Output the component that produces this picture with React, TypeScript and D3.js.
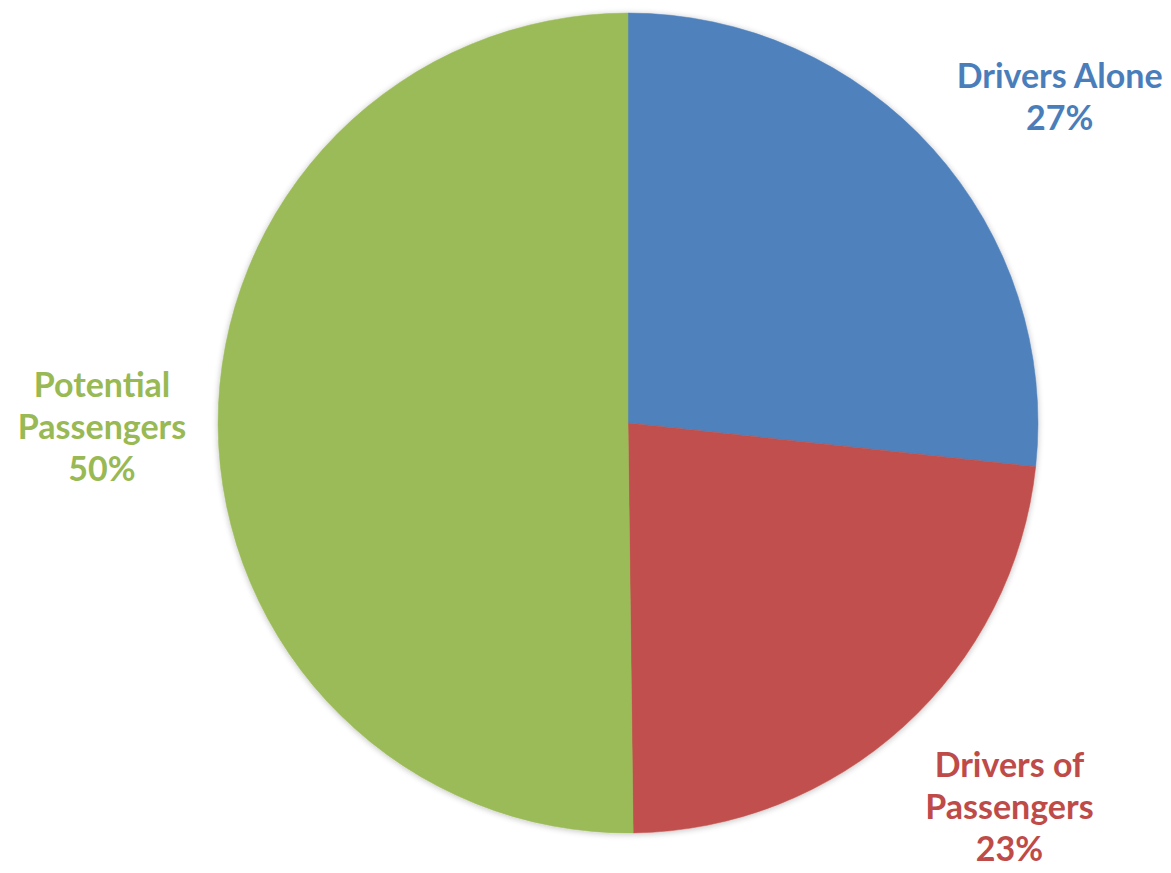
import React from "react";
import * as d3 from "d3";

const categories = ["Drivers Alone", "Drivers of Passengers", "Potential Passengers"];
const values = [26.7, 23.1, 50.2];
const percentLabels = ["27%", "23%", "50%"];
const labelLines = [["Drivers Alone"], ["Drivers of", "Passengers"], ["Potential", "Passengers"]];
const colors = ["#4F81BD", "#C0504D", "#9BBB59"];
const textColors = ["#4A7EBB", "#BE4B48", "#98B954"];

const W = 1171;
const H = 873;
const cx = 628;
const cy = 423;
const R = 410;
const labelR = 540;
const nudges: [number, number][] = [[30, 26], [18, -45], [14, -29]];
const lineH = 42;

export default function App() {
  const pie = d3.pie<number>().sort(null).value((d) => d);
  const arcs = pie(values);
  const arc = d3.arc<d3.PieArcDatum<number>>().innerRadius(0).outerRadius(R);
  return (
    <svg width={W} height={H} style={{ position: "absolute", left: 0, top: 0, background: "#fff" }}>
      <defs>
        <filter id="sh" x="-10%" y="-10%" width="120%" height="120%">
          <feGaussianBlur in="SourceAlpha" stdDeviation="3" />
          <feOffset dx="0" dy="1" />
          <feComponentTransfer><feFuncA type="linear" slope="0.25" /></feComponentTransfer>
          <feMerge><feMergeNode /><feMergeNode in="SourceGraphic" /></feMerge>
        </filter>
      </defs>
      <g transform={`translate(${cx},${cy})`} filter="url(#sh)">
        {arcs.map((a, i) => (
          <path key={categories[i]} d={arc(a) || ""} fill={colors[i]} stroke={colors[i]} strokeWidth={0.5} />
        ))}
      </g>
      {arcs.map((a, i) => {
        const mid = (a.startAngle + a.endAngle) / 2;
        const x = cx + labelR * Math.sin(mid) + nudges[i][0];
        const y = cy - labelR * Math.cos(mid) + nudges[i][1];
        const lines = [...labelLines[i], percentLabels[i]];
        return (
          <text key={categories[i]} x={x} y={y} textAnchor="middle" fill={textColors[i]}
            style={{ fontFamily: "Lato, 'Open Sans', sans-serif", fontWeight: 700, fontSize: 34 }}>
            {lines.map((l, j) => (
              <tspan key={j} x={x} y={y + j * lineH}>{l}</tspan>
            ))}
          </text>
        );
      })}
    </svg>
  );
}
